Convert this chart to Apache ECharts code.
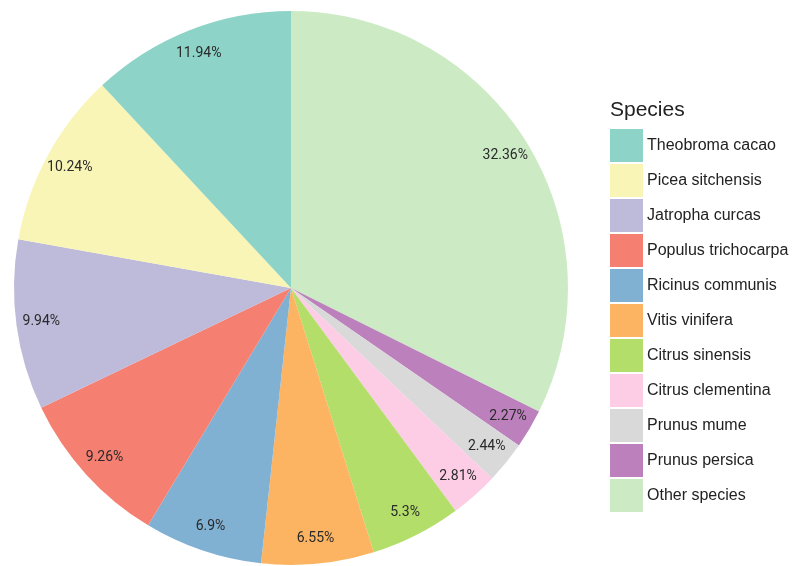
<!DOCTYPE html>
<html>
<head>
<meta charset="utf-8">
<script src="https://cdn.jsdelivr.net/npm/echarts@6/dist/echarts.min.js"></script>
<style>
  html, body { margin: 0; padding: 0; background: #fff; }
  #chart { width: 812px; height: 566px; }
</style>
</head>
<body>
<div id="chart"></div>
<script>
// slices in clockwise order from 12 o'clock
const species = ['Other species', 'Prunus persica', 'Prunus mume', 'Citrus clementina', 'Citrus sinensis',
  'Vitis vinifera', 'Ricinus communis', 'Populus trichocarpa', 'Jatropha curcas', 'Picea sitchensis', 'Theobroma cacao'];
const shares = [32.36, 2.27, 2.44, 2.81, 5.3, 6.55, 6.9, 9.26, 9.94, 10.24, 11.94];
const colors = ['#ccebc5', '#bc80bd', '#d9d9d9', '#fccde5', '#b3de69',
  '#fdb462', '#80b1d3', '#f57f71', '#bebada', '#f8f5b6', '#8dd3c7'];
// legend is listed the other way round, with "Other species" last
const legendOrder = species.slice(1).reverse().concat(['Other species']);

const chart = echarts.init(document.getElementById('chart'));
const sliceData = species.map((name, i) => ({
  name: name,
  value: shares[i],
  itemStyle: { color: colors[i] }
}));

chart.setOption({
  animation: false,
  title: {
    text: 'Species',
    left: 605,
    top: 95,
    textStyle: { fontFamily: 'Liberation Sans', fontSize: 21, fontWeight: 'normal', color: '#222' }
  },
  legend: {
    orient: 'vertical',
    left: 605,
    top: 124,
    itemWidth: 33,
    itemHeight: 33,
    itemGap: 2,
    icon: 'rect',
    data: legendOrder,
    selectedMode: false,
    textStyle: { fontFamily: 'Liberation Sans', fontSize: 16, color: '#222', padding: [0, 0, 0, -1] }
  },
  series: [
    {
      type: 'pie',
      center: [291, 288],
      radius: 277,
      startAngle: 90,
      clockwise: true,
      data: sliceData,
      label: { show: false },
      labelLine: { show: false },
      emphasis: { disabled: true }
    },
    {
      // transparent ring used only to place the percentage labels
      type: 'pie',
      center: [291, 288],
      radius: [221, 277],
      startAngle: 90,
      clockwise: true,
      silent: true,
      legendHoverLink: false,
      data: species.map((name, i) => ({ name: name, value: shares[i] })),
      itemStyle: { color: 'rgba(0,0,0,0)' },
      label: {
        show: true,
        position: 'inside',
        formatter: p => p.value + '%',
        fontFamily: 'Roboto',
        fontSize: 14,
        color: '#2a2a2a'
      },
      labelLine: { show: false },
      emphasis: { disabled: true }
    }
  ]
});
</script>
</body>
</html>
